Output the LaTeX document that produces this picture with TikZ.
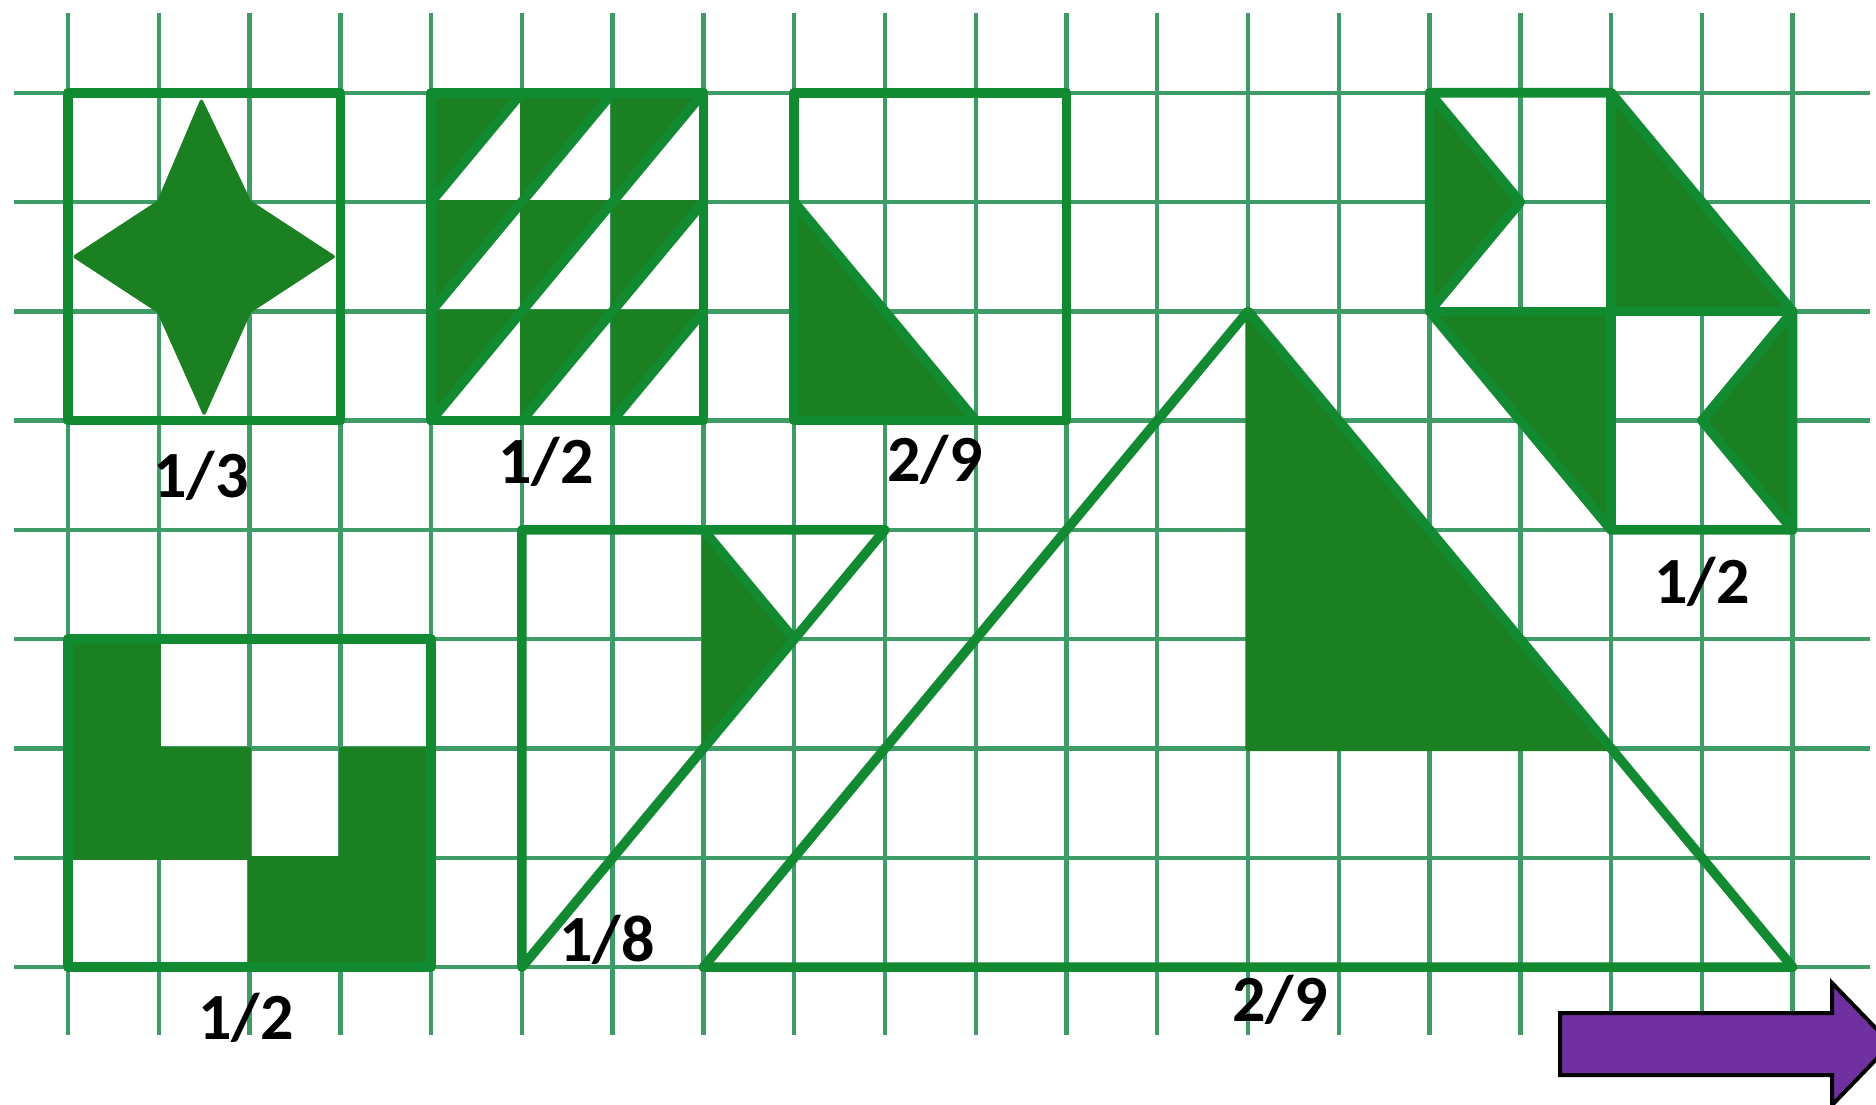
\documentclass[tikz,border=0pt]{standalone}
\usepackage{fontspec}
\setmainfont{Carlito}
\definecolor{gridgreen}{RGB}{62,156,102}
\definecolor{linegreen}{RGB}{18,138,50}
\definecolor{fillgreen}{RGB}{26,128,34}
\definecolor{arrowpurple}{RGB}{112,48,160}
\begin{document}
\begin{tikzpicture}[x=45.385pt,y=-54.65pt,
  gridline/.style={draw=gridgreen, line width=2.2pt},
  outline/.style={draw=linegreen, line width=4.8pt, line join=round, line cap=round},
  shaded/.style={fill=fillgreen, draw=fillgreen, line width=1.8pt, line join=round},
  frac/.style={font=\fontsize{33}{38}\selectfont\bfseries, inner sep=0pt, anchor=base, text=black}]
\clip (-0.7491,-0.8481) rectangle (19.9185,9.2525);
\fill[white] (-0.7491,-0.8481) rectangle (19.9185,9.2525);
% grid
\foreach \i in {0,...,19} \draw[gridline] (\i,-0.73) -- (\i,8.62);
\foreach \j in {0,...,8} \draw[gridline] (-0.6,\j) -- (19.85,\j);

% ---- square 1 with star (1/3)
\filldraw[shaded] (1.47,0.08) -- (2,1) -- (2.92,1.5) -- (2,2) -- (1.5,2.93) -- (1,2) -- (0.08,1.5) -- (1,1) -- cycle;
\draw[outline] (0,0) rectangle (3,3);

% ---- square 2 with half cells (1/2)
\foreach \a in {4,5,6} \foreach \b in {0,1,2}
  \filldraw[shaded] (\a,\b) -- (\a+1,\b) -- (\a,\b+1) -- cycle;
\draw[outline] (4,1) -- (5,0);
\draw[outline] (4,2) -- (6,0);
\draw[outline] (4,3) -- (7,0);
\draw[outline] (5,3) -- (7,1);
\draw[outline] (6,3) -- (7,2);
\draw[outline] (4,0) rectangle (7,3);

% ---- square 3 (2/9)
\filldraw[shaded] (8,1) -- (8,3) -- (10,3) -- cycle;
\draw[outline] (8,1) -- (10,3);
\draw[outline] (8,0) rectangle (11,3);

% ---- top-right shape (1/2)
\filldraw[shaded] (15,0) -- (16,1) -- (15,2) -- cycle;
\filldraw[shaded] (17,0) -- (19,2) -- (17,2) -- cycle;
\filldraw[shaded] (15,2) -- (17,2) -- (17,4) -- cycle;
\filldraw[shaded] (19,2) -- (18,3) -- (19,4) -- cycle;
\draw[outline] (15,0) -- (16,1) -- (15,2);
\draw[outline] (19,2) -- (18,3) -- (19,4);
\draw[outline] (15,0) -- (17,0) -- (19,2) -- (19,4) -- (17,4) -- (15,2) -- cycle;
\draw[outline] (17,0) -- (17,4);
\draw[outline] (15,2) -- (19,2);

% ---- L shapes (1/2)
\filldraw[shaded] (0,5) -- (1,5) -- (1,6) -- (2,6) -- (2,7) -- (0,7) -- cycle;
\filldraw[shaded] (2,7) -- (3,7) -- (3,6) -- (4,6) -- (4,8) -- (2,8) -- cycle;
\draw[outline] (0,5) rectangle (4,8);

% ---- triangle 1/8
\filldraw[shaded] (7,4) -- (8,5) -- (7,6) -- cycle;
\draw[outline] (7,4) -- (8,5);
\draw[outline] (5,4) -- (9,4) -- (5,8) -- cycle;

% ---- big triangle 2/9
\filldraw[shaded, line width=2.6pt] (13,2) -- (13,6) -- (17,6) -- cycle;
\draw[outline] (7,8) -- (13,2) -- (19,8) -- cycle;

% ---- labels
\node[frac] (l13) at (1.465,3.708) {1/3};
\node[frac] (l12a) at (5.266,3.571) {1/2};
\node[frac] (l29a) at (9.552,3.559) {2/9};
\node[frac] (l12b) at (18.002,4.669) {1/2};
\node[frac] (l12c) at (1.961,8.662) {1/2};
\node[frac] (l18) at (5.938,7.953) {1/8};
\node[frac] (l29b) at (13.352,8.502) {2/9};

% ---- purple arrow
\filldraw[fill=arrowpurple, draw=black, line width=2pt, line join=miter]
  (16.437,8.420) -- (19.434,8.420) -- (19.434,8.145) -- (20.084,8.703)
  -- (19.434,9.262) -- (19.434,8.987) -- (16.437,8.987) -- cycle;
\end{tikzpicture}
\end{document}
